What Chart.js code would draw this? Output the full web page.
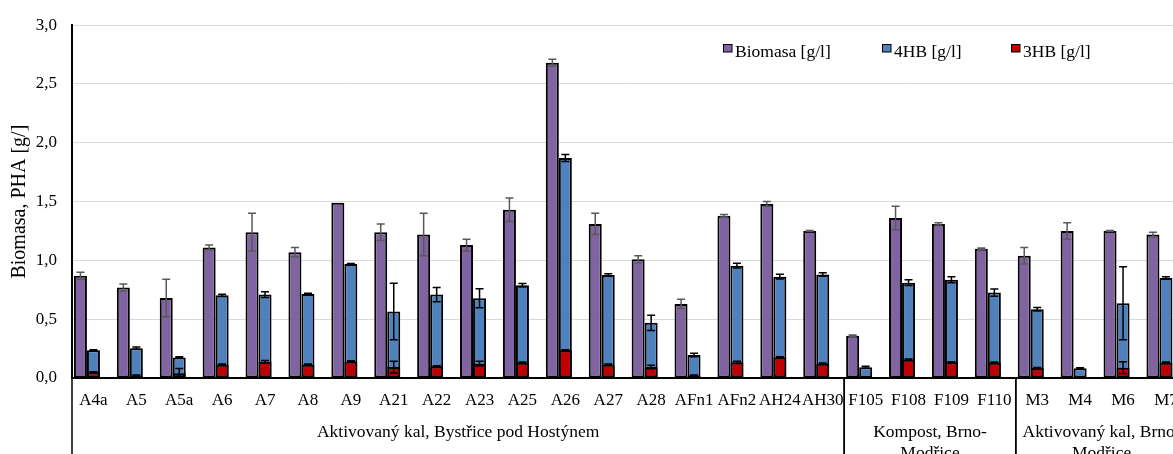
<!DOCTYPE html>
<html><head><meta charset="utf-8">
<script src="https://cdn.jsdelivr.net/npm/chart.js@4.4.1/dist/chart.umd.min.js"></script>
<style>
html,body{margin:0;padding:0;background:#fff;overflow:hidden;width:1173px;height:454px}
#wrap{position:absolute;left:0;top:0;width:1200px;height:454px}
canvas{display:block}
</style>
</head><body><div id="wrap"><canvas id="c" width="1200" height="454" style="width:1200px;height:454px"></canvas></div>
<script>
const categories = ['A4a','A5','A5a','A6','A7','A8','A9','A21','A22','A23','A25','A26','A27','A28','AFn1','AFn2','AH24','AH30','F105','F108','F109','F110','M3','M4','M6','M7'];
const groupLabels = [["Aktivovaný kal, Bystřice pod Hostýnem"], ["Kompost, Brno-", "Modřice"], ["Aktivovaný kal, Brno-", "Modřice"]];
const groupSizes = [18, 4, 4];
const seriesNames = ['Biomasa [g/l]', '4HB [g/l]', '3HB [g/l]'];
const biomasa    = [0.87,0.77,0.68,1.11,1.24,1.07,1.49,1.24,1.22,1.13,1.43,2.68,1.31,1.01,0.63,1.38,1.48,1.25,0.36,1.36,1.31,1.10,1.04,1.25,1.25,1.22];
const biomasaErr = [0.03,0.03,0.16,0.02,0.16,0.04,0,0.07,0.18,0.05,0.10,0.03,0.09,0.03,0.04,0.01,0.02,0.005,0.005,0.10,0.01,0.005,0.07,0.07,0.005,0.02];
const hb4    = [0.235,0.254,0.175,0.703,0.709,0.715,0.969,0.565,0.709,0.678,0.788,1.87,0.876,0.469,0.195,0.955,0.862,0.881,0.091,0.811,0.836,0.726,0.585,0.082,0.636,0.851];
const hb4Err = [0.005,0.01,0.005,0.01,0.025,0.005,0.005,0.24,0.06,0.08,0.015,0.03,0.01,0.065,0.015,0.02,0.02,0.015,0.008,0.025,0.025,0.03,0.015,0.005,0.31,0.01];
const hb3    = [0.048,0.02,0.04,0.113,0.139,0.113,0.141,0.093,0.10,0.122,0.13,0.235,0.113,0.093,0.02,0.133,0.175,0.122,0,0.156,0.133,0.13,0.085,0,0.088,0.13];
const hb3Err = [0.005,0.005,0.04,0.005,0.01,0.005,0.005,0.05,0.005,0.02,0.005,0.005,0.005,0.015,0.005,0.01,0.005,0.005,0,0.005,0.005,0.005,0.005,0,0.05,0.005];
const yTicks = [0, 0.5, 1.0, 1.5, 2.0, 2.5, 3.0];
const yTitle = 'Biomasa, PHA [g/]';

const FONT = 'Liberation Serif, Times New Roman, serif';
const COLORS = ['#8064A2', '#4F81BD', '#C00000'];
const empty = categories.map(() => null);

// slots per category: a = Biomasa, b = 4HB with 3HB overlaid, c = empty slot
const datasets = [
  {label: seriesNames[0], data: biomasa, stack: 'a', backgroundColor: COLORS[0]},
  {label: seriesNames[2], data: hb3, stack: 'b', backgroundColor: COLORS[2]},
  {label: seriesNames[1], data: hb4, stack: 'b', backgroundColor: COLORS[1]},
  {label: '_empty', data: empty, stack: 'c'}
];

const errorSeries = [
  {ds: 0, vals: biomasa, errs: biomasaErr, color: '#595959'},
  {ds: 2, vals: hb4, errs: hb4Err, color: '#000'},
  {ds: 1, vals: hb3, errs: hb3Err, color: '#000'}
];

const errorBars = {
  id: 'errorBars',
  afterDatasetsDraw(chart) {
    const ctx = chart.ctx, y = chart.scales.y;
    ctx.save();
    ctx.lineWidth = 1.5;
    errorSeries.forEach(s => {
      const meta = chart.getDatasetMeta(s.ds);
      ctx.strokeStyle = s.color;
      s.vals.forEach((v, i) => {
        const e = s.errs[i];
        if (!e || v === null) return;
        const bx = meta.data[i].x;
        const yt = y.getPixelForValue(v + e), yb = y.getPixelForValue(Math.max(0, v - e));
        ctx.beginPath();
        ctx.moveTo(bx, yt); ctx.lineTo(bx, yb);
        ctx.moveTo(bx - 4, yt); ctx.lineTo(bx + 4, yt);
        ctx.moveTo(bx - 4, yb); ctx.lineTo(bx + 4, yb);
        ctx.stroke();
      });
    });
    ctx.restore();
  }
};

const groupAxis = {
  id: 'groupAxis',
  afterDraw(chart) {
    const ctx = chart.ctx, xs = chart.scales.x, area = chart.chartArea;
    const half = (xs.getPixelForValue(1) - xs.getPixelForValue(0)) / 2;
    const boundary = i => xs.getPixelForValue(i) - half;
    ctx.save();
    ctx.strokeStyle = '#000';
    ctx.lineWidth = 1.5;
    ctx.fillStyle = '#000';
    ctx.font = '17.5px ' + FONT;
    ctx.textAlign = 'center';
    ctx.textBaseline = 'alphabetic';
    let start = 0;
    groupSizes.forEach((n, g) => {
      const l = boundary(start), r = boundary(start + n);
      ctx.beginPath(); ctx.moveTo(l, area.bottom); ctx.lineTo(l, chart.height); ctx.stroke();
      ctx.beginPath(); ctx.moveTo(r, area.bottom); ctx.lineTo(r, chart.height); ctx.stroke();
      groupLabels[g].forEach((t, k) => ctx.fillText(t, (l + r) / 2, 437 + k * 21));
      start += n;
    });
    ctx.restore();
  }
};

const customLegend = {
  id: 'customLegend',
  afterDraw(chart) {
    const ctx = chart.ctx;
    const xsPos = [723, 882, 1011];
    const dsIdx = [0, 2, 1];
    ctx.save();
    ctx.font = '17.5px ' + FONT;
    ctx.textAlign = 'left';
    ctx.textBaseline = 'alphabetic';
    dsIdx.forEach((d, k) => {
      const ds = chart.data.datasets[d];
      const x = xsPos[k];
      ctx.fillStyle = ds.backgroundColor;
      ctx.fillRect(x, 44, 9, 8);
      ctx.strokeStyle = '#000'; ctx.lineWidth = 1;
      ctx.strokeRect(x + 0.5, 44.5, 8.5, 7.5);
      ctx.fillStyle = '#000';
      ctx.fillText(ds.label, x + 12, 56.5);
    });
    ctx.restore();
  }
};

new Chart(document.getElementById('c'), {
  type: 'bar',
  data: {labels: categories, datasets},
  options: {
    responsive: false,
    animation: false,
    devicePixelRatio: 1,
    layout: {padding: {top: 23, right: 12.6, left: 0, bottom: 0}},
    datasets: {bar: {categoryPercentage: 0.91, barPercentage: 1, borderColor: '#000', borderWidth: 2, borderSkipped: false}},
    plugins: {legend: {display: false}, tooltip: {enabled: false}},
    scales: {
      x: {
        type: 'category', offset: true,
        grid: {display: false, drawTicks: false},
        border: {display: true, color: '#000', width: 2},
        ticks: {autoSkip: false, maxRotation: 0, minRotation: 0, padding: 12, color: '#000', font: {family: FONT, size: 17}},
        afterFit(s) { s.height = 76; }
      },
      y: {
        min: 0, max: 3, stacked: false,
        afterBuildTicks(s) { s.ticks = yTicks.map(v => ({value: v})); },
        ticks: {padding: 15, color: '#000', font: {family: FONT, size: 17}, callback: v => Number(v).toFixed(1).replace('.', ',')},
        grid: {color: '#d9d9d9', lineWidth: 1, drawTicks: false},
        border: {display: true, color: '#000', width: 2},
        title: {display: true, text: yTitle, color: '#000', font: {family: FONT, size: 20}, padding: {top: 8, bottom: 0}},
        afterFit(s) { s.width = 72; }
      }
    }
  },
  plugins: [errorBars, groupAxis, customLegend]
});
</script></body></html>
